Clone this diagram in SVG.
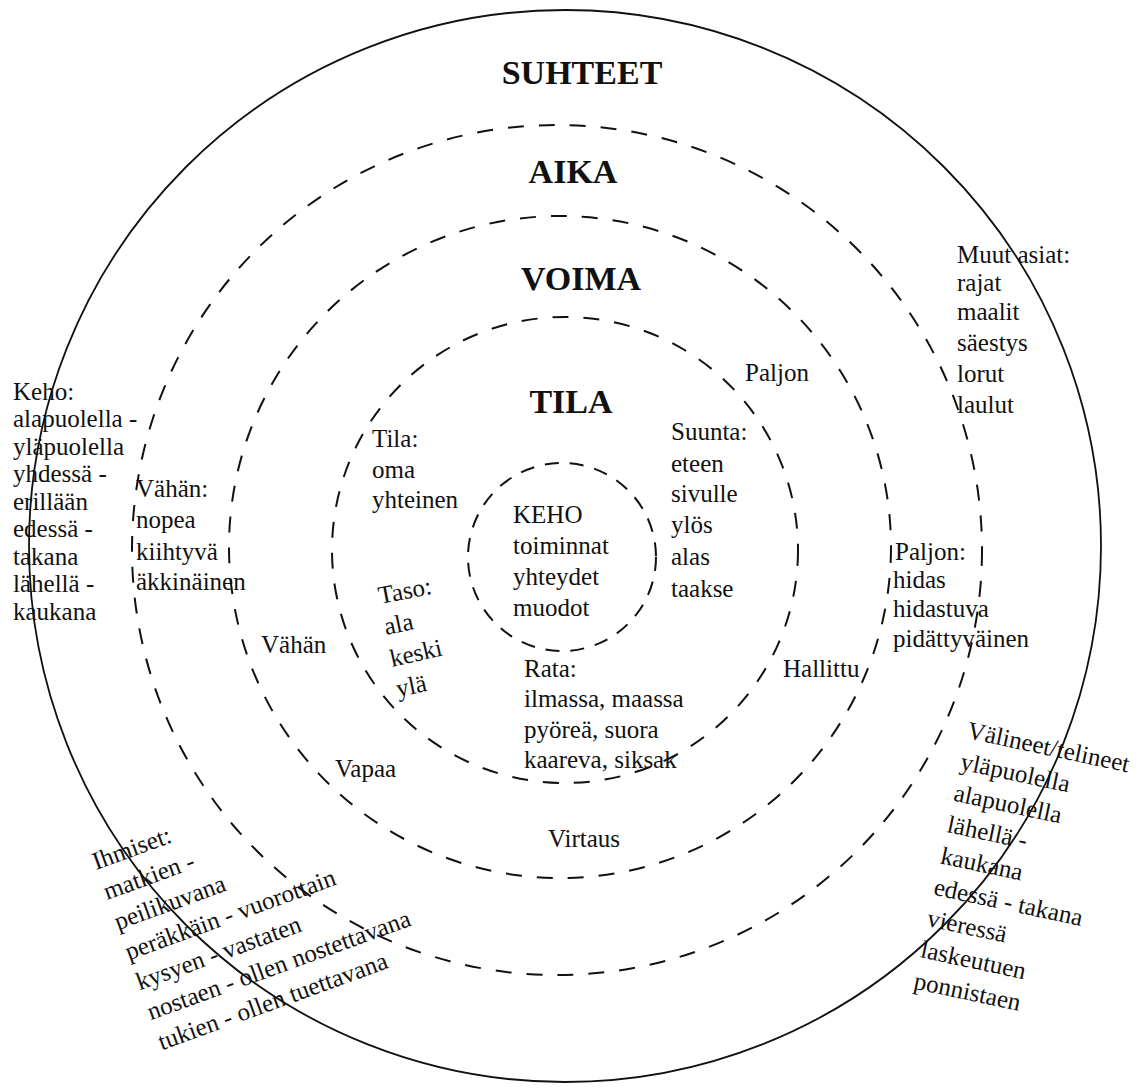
<svg xmlns="http://www.w3.org/2000/svg" width="1142" height="1088" viewBox="0 0 1142 1088">
<style>
.ring{fill:none;stroke:#111;stroke-width:1.8}
.dash{fill:none;stroke:#111;stroke-width:2;stroke-dasharray:16 15}
.dashs{fill:none;stroke:#111;stroke-width:2;stroke-dasharray:14 11}
.title{font-family:"Liberation Serif","Times New Roman",serif;font-weight:bold;font-size:34px;fill:#111;text-anchor:middle}
.t{font-family:"Liberation Serif","Times New Roman",serif;font-size:25px;fill:#111}
</style>
<rect width="1142" height="1088" fill="#fff"/>
<g id="rings">
<circle class="ring" cx="565" cy="546" r="536"/>
<circle class="dash" cx="557" cy="550" r="425"/>
<circle class="dash" cx="560" cy="547" r="331"/>
<circle class="dash" cx="565" cy="550" r="233"/>
<circle class="dashs" cx="562" cy="557" r="94"/>
</g>
<g id="connectors"></g>
<g id="suhteet"><text class="title" x="582" y="84">SUHTEET</text></g>
<g id="aika"><text class="title" x="573" y="183">AIKA</text></g>
<g id="voima"><text class="title" x="581" y="290">VOIMA</text></g>
<g id="tila"><text class="title" x="571" y="413">TILA</text></g>
<g id="keho-center">
<text class="t" x="513" y="523">KEHO</text>
<text class="t" x="513" y="554">toiminnat</text>
<text class="t" x="513" y="585">yhteydet</text>
<text class="t" x="513" y="616">muodot</text>
</g>
<g id="tila-oma">
<text class="t" x="372" y="447">Tila:</text>
<text class="t" x="372" y="478">oma</text>
<text class="t" x="372" y="508">yhteinen</text>
</g>
<g id="suunta">
<text class="t" x="671" y="440">Suunta:</text>
<text class="t" x="671" y="472">eteen</text>
<text class="t" x="671" y="502">sivulle</text>
<text class="t" x="671" y="533">ylös</text>
<text class="t" x="671" y="565">alas</text>
<text class="t" x="671" y="597">taakse</text>
</g>
<g id="taso">
<text class="t" transform="translate(380 604) rotate(-11)">Taso:</text>
<text class="t" transform="translate(386 635) rotate(-12)">ala</text>
<text class="t" transform="translate(392 667) rotate(-13)">keski</text>
<text class="t" transform="translate(398 697) rotate(-12)">ylä</text>
</g>
<g id="rata">
<text class="t" x="524" y="677">Rata:</text>
<text class="t" x="524" y="707">ilmassa, maassa</text>
<text class="t" x="524" y="738">pyöreä, suora</text>
<text class="t" x="524" y="768">kaareva, siksak</text>
</g>
<g id="voima-labels">
<text class="t" x="745" y="381">Paljon</text>
<text class="t" x="261" y="653">Vähän</text>
<text class="t" x="783" y="677">Hallittu</text>
<text class="t" x="335" y="777">Vapaa</text>
<text class="t" x="548" y="847">Virtaus</text>
</g>
<g id="aika-vahan">
<text class="t" x="136" y="497">Vähän:</text>
<text class="t" x="136" y="528">nopea</text>
<text class="t" x="136" y="560">kiihtyvä</text>
<text class="t" x="136" y="590">äkkinäinen</text>
</g>
<g id="aika-paljon">
<text class="t" x="895" y="560">Paljon:</text>
<text class="t" x="893" y="588">hidas</text>
<text class="t" x="893" y="617">hidastuva</text>
<text class="t" x="893" y="647">pidättyväinen</text>
</g>
<g id="keho-suhteet">
<text class="t" x="13" y="400">Keho:</text>
<text class="t" x="13" y="427">alapuolella -</text>
<text class="t" x="13" y="455">yläpuolella</text>
<text class="t" x="13" y="482">yhdessä -</text>
<text class="t" x="13" y="510">erillään</text>
<text class="t" x="13" y="537">edessä -</text>
<text class="t" x="13" y="565">takana</text>
<text class="t" x="13" y="592">lähellä  -</text>
<text class="t" x="13" y="620">kaukana</text>
</g>
<g id="muut-asiat">
<text class="t" x="957" y="263">Muut asiat:</text>
<text class="t" x="957" y="291">rajat</text>
<text class="t" x="957" y="320">maalit</text>
<text class="t" x="957" y="351">säestys</text>
<text class="t" x="957" y="382">lorut</text>
<text class="t" x="957" y="413">laulut</text>
</g>
<g id="ihmiset" transform="translate(96 870) rotate(-20)">
<text class="t" x="0" y="0">Ihmiset:</text>
<text class="t" x="0" y="32">matkien -</text>
<text class="t" x="0" y="64">peilikuvana</text>
<text class="t" x="0" y="96">peräkkäin - vuorottain</text>
<text class="t" x="0" y="128">kysyen - vastaten</text>
<text class="t" x="0" y="160">nostaen - ollen nostettavana</text>
<text class="t" x="0" y="192">tukien - ollen tuettavana</text>
</g>
<g id="valineet" transform="translate(966 738) rotate(12)">
<text class="t" x="0" y="0">Välineet/telineet</text>
<text class="t" x="0" y="32">yläpuolella</text>
<text class="t" x="0" y="64">alapuolella</text>
<text class="t" x="0" y="96">lähellä -</text>
<text class="t" x="0" y="128">kaukana</text>
<text class="t" x="0" y="160">edessä - takana</text>
<text class="t" x="0" y="192">vieressä</text>
<text class="t" x="0" y="224">laskeutuen</text>
<text class="t" x="0" y="256">ponnistaen</text>
</g>
</svg>
